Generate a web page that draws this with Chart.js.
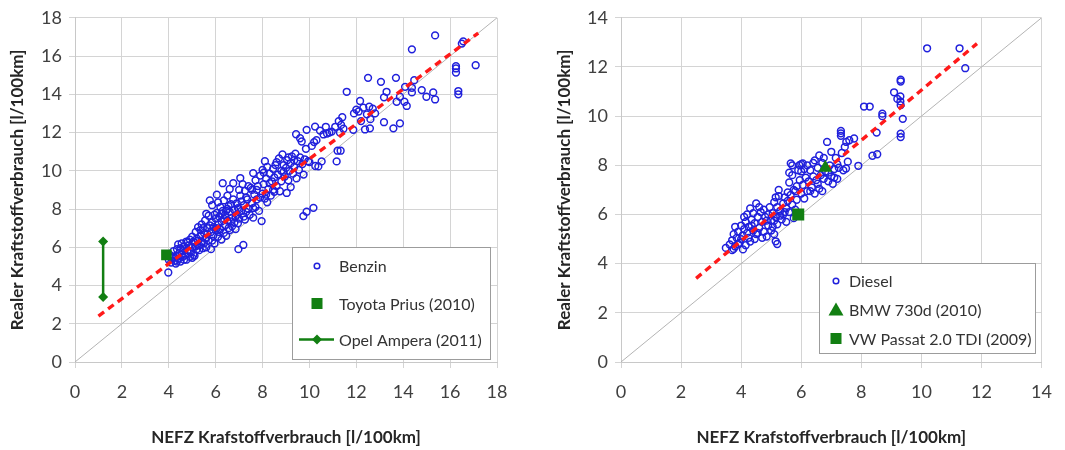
<!DOCTYPE html>
<html>
<head>
<meta charset="utf-8">
<script src="https://cdn.jsdelivr.net/npm/chart.js@4.4.0/dist/chart.umd.min.js"></script>
<style>
  body { margin: 0; background: #fff; width: 1065px; height: 450px; overflow: hidden; position: relative; }
  .box { position: absolute; top: 0; height: 450px; }
</style>
</head>
<body>
<div class="box" style="left:0;width:530px"><canvas id="benzinChart" width="530" height="450"></canvas></div>
<div class="box" style="left:530px;width:535px"><canvas id="dieselChart" width="535" height="450"></canvas></div>
<script>
// values (NEFZ, real) in l/100km

const benzinTicks = [0, 2, 4, 6, 8, 10, 12, 14, 16, 18];
const dieselTicks = [0, 2, 4, 6, 8, 10, 12, 14];

const benzinLegend = ['Benzin', 'Toyota Prius (2010)', 'Opel Ampera (2011)'];
const dieselLegend = ['Diesel', 'BMW 730d (2010)', 'VW Passat 2.0 TDI (2009)'];

const benzinPoints = [
  [3.98,4.68],[4.0,5.35],[4.05,5.6],[4.1,5.2],[4.15,5.45],[4.2,5.8],[4.25,5.3],[4.3,5.15],[4.3,5.55],[4.35,5.9],
  [4.4,5.4],[4.4,6.15],[4.45,5.7],[4.5,5.25],[4.5,5.95],[4.55,6.2],[4.6,5.5],[4.6,5.8],
  [4.65,6.05],[4.7,5.6],[4.75,5.35],[4.75,6.3],[4.8,5.85],[4.85,6.1],[4.9,5.5],[4.9,6.4],[4.95,5.75],[5.0,6.0],
  [5.0,6.55],[5.05,5.6],[5.1,6.25],[5.1,5.55],[5.15,6.8],[5.2,5.9],[5.2,6.45],[5.25,7.05],[5.3,6.1],[5.3,5.85],
  [5.35,6.6],[5.4,6.3],[5.4,7.2],[5.45,5.95],[5.5,6.75],[5.5,6.2],
  [5.55,7.4],[5.6,6.5],[5.6,6.0],[5.65,7.0],[5.7,6.35],[5.7,7.65],[5.75,8.45],[5.8,6.8],[5.8,5.9],[5.85,7.3],
  [5.85,8.2],[5.9,6.6],[5.9,7.05],[5.95,6.2],[6.0,7.5],[6.0,6.9],[6.05,7.8],[6.05,8.75],[6.1,7.2],[6.1,6.55],
  [6.15,7.6],[6.2,6.95],[6.2,8.1],[6.25,6.4],[6.25,7.35],[6.3,9.35],[6.3,7.9],[6.35,6.75],[6.35,8.45],[6.4,7.15],
  [6.4,7.7],[6.45,6.6],[6.5,8.7],[6.5,7.4],[6.5,8.0],
  [6.55,7.0],[6.6,7.85],[6.6,6.9],[6.65,8.25],[6.7,7.55],[6.7,7.1],[6.75,9.35],[6.75,8.5],[6.8,7.3],[6.8,7.95],
  [6.85,6.95],[6.9,8.3],[6.9,7.7],[6.95,8.05],[6.97,5.9],[7.0,9.0],[7.0,7.5],[7.05,9.62],[7.05,8.7],[7.1,7.9],
  [7.15,9.3],[7.18,6.12],[7.2,8.2],[7.2,7.6],[7.25,8.95],[7.3,7.85],[7.35,8.5],[7.4,8.0],[7.45,7.7],[7.5,9.1],
  [7.55,8.3],[7.6,9.88],[7.6,7.55],[7.65,8.75],[7.7,9.5],[7.7,8.1],[7.75,8.5],[7.8,9.2],[7.85,7.9],[7.9,9.75],
  [7.96,7.37],[8.0,8.8],[8.0,10.05],[8.05,9.3],[8.1,8.55],[8.1,10.5],[8.15,9.6],[8.2,10.2],[8.2,8.35],[8.25,9.05],
  [8.3,9.85],[8.35,8.7],[8.4,9.45],[8.45,10.1],[8.5,8.9],[8.5,9.65],
  [8.55,10.3],[8.6,9.2],[8.65,9.8],[8.7,10.65],[8.74,8.93],[8.8,10.0],[8.8,9.45],[8.85,10.85],[8.9,10.3],[8.95,9.7],
  [9.0,10.15],[9.03,8.84],[9.05,10.55],[9.1,9.5],[9.15,10.0],[9.2,10.4],[9.2,9.15],[9.25,10.75],[9.3,9.85],[9.35,10.2],
  [9.4,10.9],[9.43,11.91],[9.45,9.6],[9.5,10.5],[9.55,10.05],[9.6,11.7],[9.6,10.7],[9.67,11.53],[9.7,10.35],[9.74,7.63],
  [9.75,9.8],[9.8,10.6],
  [9.85,11.15],[9.88,12.14],[9.88,7.86],[9.95,10.5],[10.0,10.45],[10.1,11.3],[10.17,8.06],[10.2,11.5],[10.24,12.31],[10.25,10.25],
  [10.3,11.6],[10.38,10.23],[10.45,12.1],[10.52,10.49],[10.6,11.9],[10.7,12.3],[10.75,11.95],[10.85,12.0],[10.95,12.05],[11.1,12.3],
  [11.16,10.49],[11.2,11.05],[11.25,12.6],[11.3,12.0],[11.33,11.05],[11.35,12.4],[11.4,12.8],[11.45,12.2],
  [11.59,14.13],[11.87,12.14],[11.9,13.0],[12.0,13.2],[12.1,13.1],[12.16,13.65],[12.2,12.6],[12.3,13.3],[12.37,12.16],[12.45,12.95],
  [12.5,14.86],[12.55,13.35],[12.58,12.22],[12.6,12.7],[12.7,13.25],[12.8,13.0],[13.05,14.65],[13.18,13.84],[13.18,12.54],[13.29,14.13],
  [13.58,12.22],[13.69,14.86],[13.72,13.61],[13.86,13.87],[13.86,12.48],
  [14.05,13.61],[14.08,14.39],[14.15,13.39],[14.37,14.1],[14.37,14.34],[14.37,16.35],[14.47,14.74],[14.79,14.22],[14.99,13.87],[15.28,14.1],
  [15.36,13.73],[15.36,17.08],[16.25,15.47],[16.25,15.35],[16.25,15.14],[16.35,14.17],[16.35,14.0],[16.5,16.65],[16.56,16.77],[17.09,15.52],
  [5.05,6.3],[5.15,6.05],[5.25,6.35],[5.35,6.9],[5.45,7.0],[5.55,6.45],[5.65,6.7],[5.75,7.15],[5.95,7.7],[6.05,7.0],
  [6.15,6.8],[6.25,7.75],[6.35,7.5],[6.45,7.9],[6.55,8.15],[6.65,7.35],[6.85,7.6],[6.95,7.25],[7.1,8.4],[7.3,8.6],
  [7.4,9.2],[7.55,9.0],[7.75,9.0],[7.9,8.6],[8.05,9.9],[8.3,9.35],[8.6,10.45],[8.9,9.95],[9.1,10.7],[9.35,10.55],
  [4.2,5.5],[4.35,5.25],[4.55,5.6],[4.65,5.35],[4.8,6.25],[5.0,5.45],[5.6,7.75],[5.85,6.35],[6.1,8.35],[6.6,9.05],
  [7.0,8.0],[7.25,7.45],[7.6,8.05],[8.15,8.75],[8.45,9.0]
];

const dieselPoints = [
  [3.49,4.64],[3.62,4.78],[3.7,4.55],[3.7,4.95],[3.75,5.2],[3.8,4.7],[3.8,5.5],[3.85,5.05],[3.9,5.3],[3.95,4.85],
  [4.0,5.55],[4.05,5.15],[4.06,4.58],[4.1,5.4],[4.15,4.75],[4.15,5.7],[4.2,5.25],[4.2,6.0],
  [4.25,5.5],[4.3,4.9],[4.3,6.25],[4.35,5.8],[4.4,5.35],[4.4,6.05],[4.45,5.0],[4.45,5.65],[4.5,6.45],[4.5,5.2],
  [4.55,5.9],[4.6,5.45],[4.65,6.1],[4.7,5.7],[4.75,5.3],[4.75,6.2],[4.8,5.9],[4.85,5.1],[4.9,6.0],[4.9,5.55],
  [4.95,6.3],[5.0,5.75],[5.0,5.35],
  [5.05,6.05],[5.1,5.2],[5.1,6.5],[5.15,4.91],[5.15,5.9],[5.2,6.3],[5.2,5.6],[5.25,7.0],[5.25,6.75],[5.3,6.15],
  [5.35,5.8],[5.4,6.45],[5.4,6.0],[5.45,6.7],[5.5,6.25],[5.5,5.7],[5.55,6.55],[5.6,7.3],[5.6,6.1],[5.65,8.08],
  [5.65,6.8],[5.7,7.6],[5.7,6.4],[5.75,5.85],[5.8,6.95],
  [5.85,7.15],[5.85,6.6],[5.94,8.01],[5.95,7.4],[6.0,6.85],[6.0,7.75],[6.05,8.08],[6.05,7.2],[6.1,6.65],[6.15,7.5],
  [6.2,6.95],[6.2,8.0],[6.25,7.35],[6.3,7.8],[6.35,7.1],[6.4,7.55],[6.45,8.2],[6.45,6.85],[6.5,7.4],[6.55,7.9],
  [6.6,8.4],[6.6,7.05],
  [6.65,7.6],[6.7,6.95],[6.7,8.1],[6.75,7.45],[6.8,7.75],[6.86,8.95],[6.9,7.35],[6.95,8.0],[7.0,8.55],[7.0,7.55],
  [7.05,7.25],[7.1,7.85],[7.15,8.3],[7.2,7.45],[7.25,7.9],[7.32,9.2],[7.32,9.3],[7.32,9.4],[7.35,8.5],[7.4,7.8],
  [7.45,8.75],[7.49,7.87],[7.5,8.95],[7.55,8.15],
  [7.6,9.02],[7.76,9.09],[7.9,7.98],[8.09,10.39],[8.28,10.39],[8.37,8.39],[8.51,9.33],[8.53,8.45],[8.7,10.1],[8.7,10.0],
  [9.09,10.97],[9.2,10.7],[9.3,10.8],[9.3,10.6],[9.31,10.45],[9.31,11.41],[9.31,11.48],[9.31,9.29],[9.31,9.15],[9.38,9.89],
  [10.19,12.76],[11.27,12.76],[11.46,11.95],
  [4.0,5.0],[4.1,5.9],[4.25,5.05],[4.35,5.55],[4.55,5.25],[4.6,6.3],[4.7,5.05],[4.85,5.75],[5.05,5.5],[5.15,6.7],
  [5.3,5.95],[5.45,6.1],[5.55,6.9],[5.75,7.0],[5.8,6.2],[5.9,7.8],[6.1,7.85],[6.3,6.95],[6.4,8.1],[6.55,7.25],
  [6.75,8.3],[6.9,7.7],[7.1,7.5],[7.2,8.05],[5.6,7.7],[5.7,8.0],[6.0,8.05],[3.75,4.6],[3.9,4.8],[5.2,4.8],[5.1,5.75]
];

const benzinTrend = [[1.0, 2.4], [17.2, 17.2]];
const dieselTrend = [[2.5, 3.4], [11.85, 12.95]];
const benzinDiagonal = [[0, 0], [18, 18]];
const dieselDiagonal = [[0, 0], [14, 14]];
const priusPoint = [[3.9, 5.6]];
const amperaRange = [[1.2, 3.4], [1.2, 6.3]];
const bmwPoint = [[6.8, 7.9]];
const passatPoint = [[5.9, 6.0]];

const BLUE = '#2020dc';
const GREEN = '#127f12';
const FONT = 'Lato, "Open Sans", sans-serif';

function xy(arr) {
  return arr.map(p => ({ x: p[0], y: p[1] }));
}

// draws the little legend marks by hand
function drawMark(ctx, mark, x, y) {
  ctx.save();
  if (mark === 'circle') {
    ctx.strokeStyle = BLUE;
    ctx.lineWidth = 1.5;
    ctx.beginPath();
    ctx.arc(x, y, 2.8, 0, Math.PI * 2);
    ctx.stroke();
  } else if (mark === 'square') {
    ctx.fillStyle = GREEN;
    ctx.fillRect(x - 5.5, y - 5.5, 11, 11);
  } else if (mark === 'triangle') {
    ctx.fillStyle = GREEN;
    ctx.beginPath();
    ctx.moveTo(x, y - 7.5);
    ctx.lineTo(x + 7.5, y + 5.5);
    ctx.lineTo(x - 7.5, y + 5.5);
    ctx.closePath();
    ctx.fill();
  } else if (mark === 'lineDiamond') {
    ctx.strokeStyle = GREEN;
    ctx.lineWidth = 2.5;
    ctx.beginPath();
    ctx.moveTo(x - 18, y);
    ctx.lineTo(x + 17, y);
    ctx.stroke();
    ctx.fillStyle = GREEN;
    ctx.beginPath();
    ctx.moveTo(x, y - 5);
    ctx.lineTo(x + 5, y);
    ctx.lineTo(x, y + 5);
    ctx.lineTo(x - 5, y);
    ctx.closePath();
    ctx.fill();
  }
  ctx.restore();
}

const legendBox = {
  id: 'legendBox',
  afterDraw(chart, args, opts) {
    const ctx = chart.ctx;
    ctx.save();
    ctx.fillStyle = '#fff';
    ctx.fillRect(opts.x, opts.y, opts.w, opts.h);
    ctx.strokeStyle = '#9c9c9c';
    ctx.lineWidth = 1;
    ctx.strokeRect(opts.x + 0.5, opts.y + 0.5, opts.w, opts.h);
    ctx.font = '16px ' + FONT;
    ctx.textBaseline = 'middle';
    ctx.fillStyle = '#333';
    opts.marks.forEach((m, i) => {
      drawMark(ctx, m, opts.markX, opts.rows[i]);
      ctx.fillText(opts.labels[i], opts.textX, opts.rows[i] + 1);
    });
    ctx.restore();
  }
};

function axis(ticks, title, fit, isX, titlePad) {
  return {
    type: 'linear',
    min: ticks[0],
    max: ticks[ticks.length - 1],
    afterBuildTicks: s => { s.ticks = ticks.map(v => ({ value: v })); },
    afterFit: s => { if (isX) s.height = fit; else s.width = fit; },
    ticks: { color: '#404040', font: { family: FONT, size: 18 }, padding: isX ? 13 : 7 },
    grid: { color: '#d4d4d4', lineWidth: 1, tickLength: 6 },
    border: { color: '#c8c8c8' },
    title: {
      display: true, text: title, color: '#262626',
      font: { family: FONT, size: 17, weight: 'bold' },
      padding: titlePad
    }
  };
}

function makeChart(id, cfg) {
  new Chart(document.getElementById(id), {
    type: 'scatter',
    data: { datasets: cfg.datasets },
    options: {
      responsive: false,
      animation: false,
      events: [],
      layout: { padding: cfg.padding },
      plugins: { legend: { display: false }, tooltip: { enabled: false }, legendBox: cfg.legend },
      scales: {
        x: axis(cfg.ticks, 'NEFZ Krafstoffverbrauch [l/100km]', 88, true, { top: 0, bottom: 2 }),
        y: axis(cfg.ticks, 'Realer Kraftstoffverbrauch [l/100km]', cfg.yWidth, false, { top: cfg.yTitlePad, bottom: 0 })
      }
    },
    plugins: [legendBox]
  });
}

const trendStyle = { showLine: true, borderColor: '#ff1a1a', borderWidth: 3.4, borderDash: [7, 5], pointRadius: 0, fill: false };
const diagStyle = { showLine: true, borderColor: '#b4b4b4', borderWidth: 1, pointRadius: 0, fill: false };
const dotStyle = { pointStyle: 'circle', pointRadius: 3.4, pointBorderWidth: 1.5, pointBorderColor: BLUE, pointBackgroundColor: 'rgba(0,0,0,0)' };

makeChart('benzinChart', {
  ticks: benzinTicks,
  yWidth: 75,
  yTitlePad: 7,
  padding: { top: 16, right: 33, left: 0, bottom: 0 },
  legend: { x: 292, y: 247, w: 198, h: 112, markX: 317, textX: 339, rows: [266, 303.5, 339.5],
            marks: ['circle', 'square', 'lineDiamond'], labels: benzinLegend },
  datasets: [
    { label: benzinLegend[1], data: xy(priusPoint), pointStyle: 'rect', pointRadius: 7.5, pointBackgroundColor: GREEN, pointBorderWidth: 0 },
    { label: benzinLegend[2], data: xy(amperaRange), showLine: true, borderColor: GREEN, borderWidth: 2.5,
      pointStyle: 'rectRot', pointRadius: 5, pointBackgroundColor: GREEN, pointBorderWidth: 0 },
    Object.assign({ label: 'Trend Benzin', data: xy(benzinTrend) }, trendStyle),
    Object.assign({ label: benzinLegend[0], data: xy(benzinPoints) }, dotStyle),
    Object.assign({ label: 'NEFZ = Real', data: xy(benzinDiagonal) }, diagStyle)
  ]
});

makeChart('dieselChart', {
  ticks: dieselTicks,
  yWidth: 91,
  yTitlePad: 24,
  padding: { top: 15, right: 22, left: 0, bottom: 0 },
  legend: { x: 289, y: 263, w: 216, h: 90, markX: 306, textX: 319, rows: [281, 310, 338.5],
            marks: ['circle', 'triangle', 'square'], labels: dieselLegend },
  datasets: [
    { label: dieselLegend[1], data: xy(bmwPoint), pointStyle: 'triangle', pointRadius: 8, pointBackgroundColor: GREEN, pointBorderWidth: 0 },
    { label: dieselLegend[2], data: xy(passatPoint), pointStyle: 'rect', pointRadius: 8.5, pointBackgroundColor: GREEN, pointBorderWidth: 0 },
    Object.assign({ label: 'Trend Diesel', data: xy(dieselTrend) }, trendStyle),
    Object.assign({ label: dieselLegend[0], data: xy(dieselPoints) }, dotStyle),
    Object.assign({ label: 'NEFZ = Real', data: xy(dieselDiagonal) }, diagStyle)
  ]
});
</script>
</body>
</html>
